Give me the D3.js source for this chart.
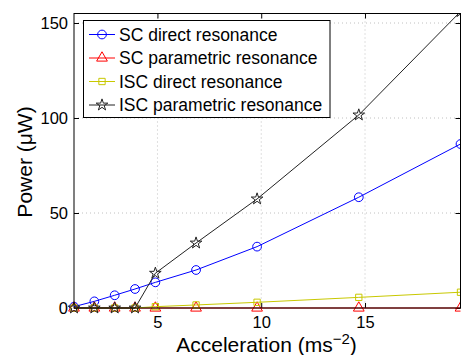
<!DOCTYPE html>
<html><head><meta charset="utf-8">
<script src="https://cdn.jsdelivr.net/npm/d3@7"></script>
<style>body{margin:0;background:#fff}svg{display:block}text{font-family:"Liberation Sans",Arial,Helvetica,sans-serif}</style>
</head><body>
<script>
const accel = [0.98, 1.96, 2.94, 3.92, 4.9, 6.86, 9.8, 14.7, 19.6];
const scDirect = [0.7, 3.5, 6.7, 10, 13.5, 20, 32.3, 58.3, 86.3];
const scParam = [0, 0, 0, 0, 0, 0, 0, 0, 0];
const iscDirect = [0, 0, 0, 0, 0.7, 1.6, 3, 5.6, 8.3];
const iscParam = [0, 0, 0, 0, 18.3, 34.2, 57.4, 101.6, 156];
const xTicks = [5, 10, 15];
const yTicks = [0, 50, 100, 150];
const seriesNames = ["SC direct resonance", "SC parametric resonance", "ISC direct resonance", "ISC parametric resonance"];
const seriesColors = ["#0000ff", "#ff0000", "#c8c800", "#222222"];
const seriesMarkers = ["circle", "triangle", "square", "star"];
const seriesValues = [scDirect, scParam, iscDirect, iscParam];

const W = 462, H = 355;
const m = {left: 74, top: 13.5, right: 1.5, bottom: 47};
const pw = W - m.left - m.right, ph = H - m.top - m.bottom;
const svg = d3.select("body").append("svg").attr("width", W).attr("height", H);
const x = d3.scaleLinear().domain([0.98, 19.6]).range([0, pw]);
const y = d3.scaleLinear().domain([0, 155]).range([ph, 0]);
const g = svg.append("g").attr("transform", `translate(${m.left},${m.top})`);

svg.append("defs").append("clipPath").attr("id", "clip")
  .append("rect").attr("x", -8).attr("y", 0).attr("width", pw + 8).attr("height", ph + 8);

// grid
g.selectAll(".gx").data(xTicks).join("line")
  .attr("x1", d => x(d)).attr("x2", d => x(d)).attr("y1", 0).attr("y2", ph)
  .attr("stroke", "#c0c0c0").attr("stroke-dasharray", "1,3");
g.selectAll(".gy").data(yTicks.filter(d => d > 0)).join("line")
  .attr("y1", d => y(d)).attr("y2", d => y(d)).attr("x1", 0).attr("x2", pw)
  .attr("stroke", "#c0c0c0").attr("stroke-dasharray", "1,3");

// axes
const ax = d3.axisBottom(x).tickValues(xTicks).tickSizeInner(-5).tickSizeOuter(0).tickPadding(8);
const ay = d3.axisLeft(y).tickValues(yTicks).tickSizeInner(-5).tickSizeOuter(0).tickPadding(6);
const gx = g.append("g").attr("transform", `translate(0,${ph})`).call(ax);
const gy = g.append("g").call(ay);
g.append("g").call(d3.axisTop(x).tickValues(xTicks).tickSizeInner(-5).tickSizeOuter(0).tickFormat(""));
g.append("g").attr("transform", `translate(${pw},0)`).call(d3.axisRight(y).tickValues(yTicks).tickSizeInner(-5).tickSizeOuter(0).tickFormat(""));
svg.selectAll(".domain").remove();
svg.selectAll(".tick line").attr("stroke", "#000");
gx.selectAll("text").attr("font-size", 16.5).attr("fill", "#000").attr("font-family", "Liberation Sans, Arial, sans-serif");
gy.selectAll("text").attr("font-size", 16.5).attr("fill", "#000").attr("font-family", "Liberation Sans, Arial, sans-serif").attr("dy", "0.36em");

// series
const symbolFor = {
  circle: d3.symbol().type(d3.symbolCircle).size(60),
  triangle: d3.symbol().type(d3.symbolTriangle).size(50),
  square: d3.symbol().type(d3.symbolSquare).size(40),
  star: d3.symbol().type(d3.symbolStar).size(42)
};
const line = d3.line().x(d => x(d[0])).y(d => y(d[1]));
const plot = g.append("g").attr("clip-path", "url(#clip)");
seriesValues.forEach((vals, i) => {
  const pts = accel.map((a, j) => [a, vals[j]]);
  plot.append("path").datum(pts).attr("d", line).attr("fill", "none")
    .attr("stroke", seriesColors[i]).attr("stroke-width", 1);
  plot.selectAll(null).data(pts).join("path")
    .attr("d", symbolFor[seriesMarkers[i]])
    .attr("transform", d => `translate(${x(d[0])},${y(d[1])})`)
    .attr("fill", "none").attr("stroke", seriesColors[i]).attr("stroke-width", 1);
});

// frame
g.append("rect").attr("width", pw).attr("height", ph).attr("fill", "none").attr("stroke", "#000").attr("stroke-width", 1);

// legend
const lg = svg.append("g").attr("transform", "translate(83.5,20.5)");
lg.append("rect").attr("width", 246.5).attr("height", 97).attr("fill", "#fff").attr("stroke", "#000");
seriesNames.forEach((n, i) => {
  const cy = 14 + i * 23.5;
  lg.append("line").attr("x1", 5.5).attr("x2", 31.5).attr("y1", cy).attr("y2", cy).attr("stroke", seriesColors[i]);
  lg.append("path").attr("d", symbolFor[seriesMarkers[i]]).attr("transform", `translate(18.5,${cy})`)
    .attr("fill", "none").attr("stroke", seriesColors[i]);
  lg.append("text").attr("x", 35.5).attr("y", cy).attr("dy", "0.36em").attr("font-size", 17.5).text(n);
});

// axis labels
const xl = svg.append("text").attr("x", 266.5).attr("y", 352).attr("text-anchor", "middle").attr("font-size", 21);
xl.append("tspan").text("Acceleration (ms");
xl.append("tspan").attr("dy", -8).attr("font-size", 15).text("\u22122");
xl.append("tspan").attr("dy", 8).text(")");
svg.append("text").attr("transform", "translate(32,162) rotate(-90)").attr("text-anchor", "middle")
  .attr("font-size", 21).text("Power (\u03BCW)");
</script>
</body></html>
